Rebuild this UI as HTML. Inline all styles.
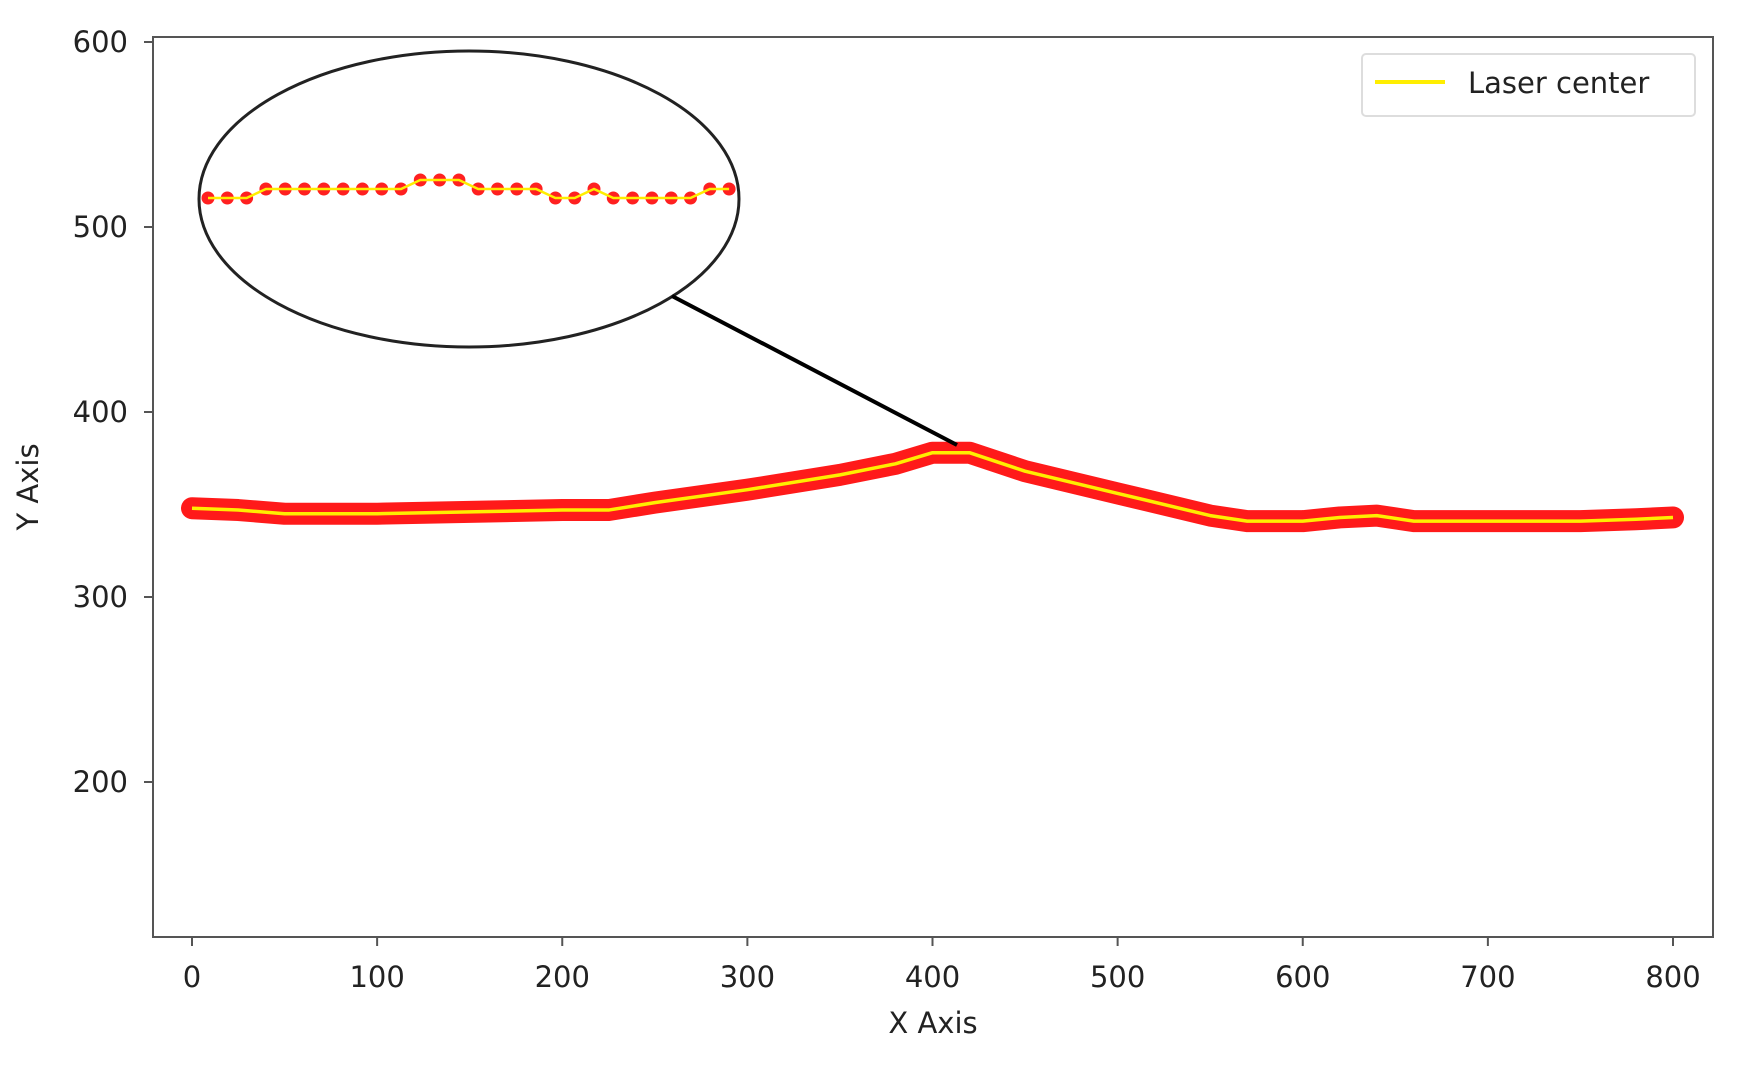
<!DOCTYPE html>
<html><head><meta charset="utf-8"><style>
body{margin:0;background:#fff;}
text{font-family:"DejaVu Sans","Liberation Sans",sans-serif;fill:#222;}
</style></head><body>
<svg id="chart" width="1739" height="1060">
<rect x="153" y="37" width="1560" height="900" fill="#fff" stroke="#555" stroke-width="2"/>
<g id="ticks"></g>
<g id="series"></g>
<ellipse cx="469" cy="199" rx="270" ry="148" fill="none" stroke="#222" stroke-width="3"/>
<line x1="672" y1="296" x2="957" y2="445" stroke="#000" stroke-width="4"/>
<g id="inset"></g>
<g>
<rect x="1362" y="54" width="333" height="62" rx="4" fill="#fff" stroke="#ddd" stroke-width="2"/>
<line x1="1375" y1="82" x2="1445" y2="82" stroke="#ffee00" stroke-width="4"/>
<text x="1468" y="93" font-size="29">Laser center</text>
</g>
<text x="933" y="1033" font-size="29" text-anchor="middle">X Axis</text>
<text x="38" y="487" font-size="29" text-anchor="middle" transform="rotate(-90 38 487)">Y Axis</text>
</svg>
<script>
const xTicks=[0,100,200,300,400,500,600,700,800];
const yTicks=[200,300,400,500,600];
const xs=[0,25,50,100,150,200,225,250,300,350,380,400,420,450,500,550,570,600,620,640,660,700,750,780,800];
const ys=[348,347,345,345,346,347,347,351,358,366,372,378,378,368,356,344,341,341,343,344,341,341,341,342,343];
const insetLevels=[0,0,0,1,1,1,1,1,1,1,1,2,2,2,1,1,1,1,0,0,1,0,0,0,0,0,1,1];
const sx=v=>192+(v/800)*(1673-192);
const sy=v=>782-(v-200)*1.85;
const NS="http://www.w3.org/2000/svg";
function mk(t,a,p){const e=document.createElementNS(NS,t);for(const k in a)e.setAttribute(k,a[k]);p.appendChild(e);return e;}
const tg=document.getElementById('ticks');
xTicks.forEach(v=>{
 const l=mk('line',{x1:sx(v),x2:sx(v),y1:937,y2:946,stroke:'#555','stroke-width':2},tg);
 
 
 const t=mk('text',{x:sx(v),y:987,'font-size':29,'text-anchor':'middle'},tg);t.textContent=v;
 
 
});
yTicks.forEach(v=>{
 const l=mk('line',{x1:144,x2:153,y1:sy(v),y2:sy(v),stroke:'#555','stroke-width':2},tg);
 
 
 const t=mk('text',{x:128,y:sy(v)+10,'font-size':29,'text-anchor':'end'},tg);t.textContent=v;
 
 
});
const sg=document.getElementById('series');
const d=xs.map((x,i)=>(i?'L':'M')+sx(x)+' '+sy(ys[i])).join(' ');
const red=mk('path',{d:d,fill:'none',stroke:'#ff1a1a','stroke-width':22,'stroke-linejoin':'round','stroke-linecap':'round'},sg);


const yl=mk('path',{d:d,fill:'none',stroke:'#ffee00','stroke-width':3.5,'stroke-linejoin':'round'},sg);


const ig=document.getElementById('inset');
const ipts=insetLevels.map((lv,i)=>[208+i*19.3,198-lv*9]);
ipts.forEach(p=>{
 const c=mk('circle',{cx:p[0],cy:p[1],r:6.5,fill:'#ff2020'},ig);
 
 
});
const il=mk('path',{d:ipts.map((p,i)=>(i?'L':'M')+p[0]+' '+p[1]).join(' '),fill:'none',stroke:'#ffee00','stroke-width':2.5},ig);


</script>
</body></html>
